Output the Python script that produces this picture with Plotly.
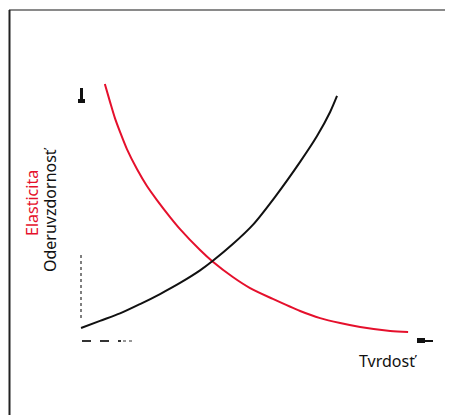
import plotly.graph_objects as go

# Data (arbitrary units)
tvrdost_red = [0.72, 0.87, 1.01, 1.16, 1.36, 1.65, 1.94, 2.23, 2.61, 2.90, 3.48, 3.86, 4.43, 4.93, 5.59, 6.38, 6.96, 7.54, 8.12, 8.99, 9.51]
elasticita = [10.45, 9.72, 9.07, 8.50, 7.80, 6.99, 6.30, 5.73, 5.04, 4.55, 3.70, 3.21, 2.60, 2.15, 1.71, 1.22, 0.93, 0.73, 0.57, 0.41, 0.37]

tvrdost_black = [0.03, 0.58, 1.16, 1.74, 2.32, 2.90, 3.48, 3.86, 4.43, 5.01, 5.65, 6.38, 6.87, 7.25, 7.45]
oderuvzdornost = [0.53, 0.82, 1.12, 1.50, 1.91, 2.36, 2.87, 3.27, 3.94, 4.72, 5.85, 7.28, 8.33, 9.31, 9.96]

# page is offset by the default 8px body margin
OFF = 8
W, H = 453 - OFF, 415 - OFF
L, R, T, B = 72, 28, 72, 74
PW, PH = W - L - R, H - T - B


def px(x):
    return (x - OFF - L) / PW


def py(y):
    return (H - B - (y - OFF)) / PH


RED = "#e5102c"
BLACK = "#111111"

fig = go.Figure()
fig.add_trace(go.Scatter(x=tvrdost_red, y=elasticita, mode="lines",
                         line=dict(color=RED, width=2, shape="spline", smoothing=0.8), hoverinfo="skip"))
fig.add_trace(go.Scatter(x=tvrdost_black, y=oderuvzdornost, mode="lines",
                         line=dict(color=BLACK, width=2, shape="spline", smoothing=0.8), hoverinfo="skip"))

shapes = []
# frame
shapes.append(dict(type="line", xref="paper", yref="paper", x0=px(9), x1=px(460), y0=py(10), y1=py(10),
                   line=dict(color="#8a8a8a", width=2)))
shapes.append(dict(type="line", xref="paper", yref="paper", x0=px(9.5), x1=px(9.5), y0=py(10), y1=py(420),
                   line=dict(color="#222222", width=2)))
# broken axis fragments
shapes.append(dict(type="line", xref="paper", yref="paper", x0=px(81), x1=px(81), y0=py(255), y1=py(321),
                   line=dict(color="#555555", width=1.5, dash="dot")))
shapes.append(dict(type="line", xref="paper", yref="paper", x0=px(82), x1=px(121), y0=py(341), y1=py(341),
                   line=dict(color="#333333", width=2, dash="dash")))
shapes.append(dict(type="line", xref="paper", yref="paper", x0=px(123), x1=px(134), y0=py(341), y1=py(341),
                   line=dict(color="#777777", width=1.5, dash="dot")))
# arrow heads
shapes.append(dict(type="rect", xref="paper", yref="paper", x0=px(80), x1=px(83), y0=py(102), y1=py(88),
                   fillcolor=BLACK, line=dict(width=0)))
shapes.append(dict(type="rect", xref="paper", yref="paper", x0=px(78), x1=px(85), y0=py(103), y1=py(99),
                   fillcolor=BLACK, line=dict(width=0)))
shapes.append(dict(type="rect", xref="paper", yref="paper", x0=px(417), x1=px(425), y0=py(343), y1=py(338),
                   fillcolor=BLACK, line=dict(width=0)))
shapes.append(dict(type="rect", xref="paper", yref="paper", x0=px(417), x1=px(433), y0=py(342), y1=py(340),
                   fillcolor=BLACK, line=dict(width=0)))

FONT = "Noto Sans"
annotations = [
    dict(text="Elasticita", xref="paper", yref="paper", x=px(32), y=py(203), showarrow=False,
         textangle=-90, font=dict(family=FONT, size=16, color=RED), xanchor="center", yanchor="middle"),
    dict(text="Oderuvzdornosť", xref="paper", yref="paper", x=px(50), y=py(210), showarrow=False,
         textangle=-90, font=dict(family=FONT, size=16, color=BLACK), xanchor="center", yanchor="middle"),
    dict(text="Tvrdosť", xref="paper", yref="paper", x=px(388), y=py(361), showarrow=False,
         font=dict(family=FONT, size=16, color=BLACK), xanchor="center", yanchor="middle"),
]

fig.update_layout(
    width=W, height=H,
    margin=dict(l=L, r=R, t=T, b=B),
    paper_bgcolor="white", plot_bgcolor="white",
    showlegend=False,
    shapes=shapes, annotations=annotations,
    xaxis=dict(range=[0, 10], visible=False, fixedrange=True),
    yaxis=dict(range=[0, PH / 24.6], visible=False, fixedrange=True),
)

fig.write_html("out.html", config={"displayModeBar": False})
